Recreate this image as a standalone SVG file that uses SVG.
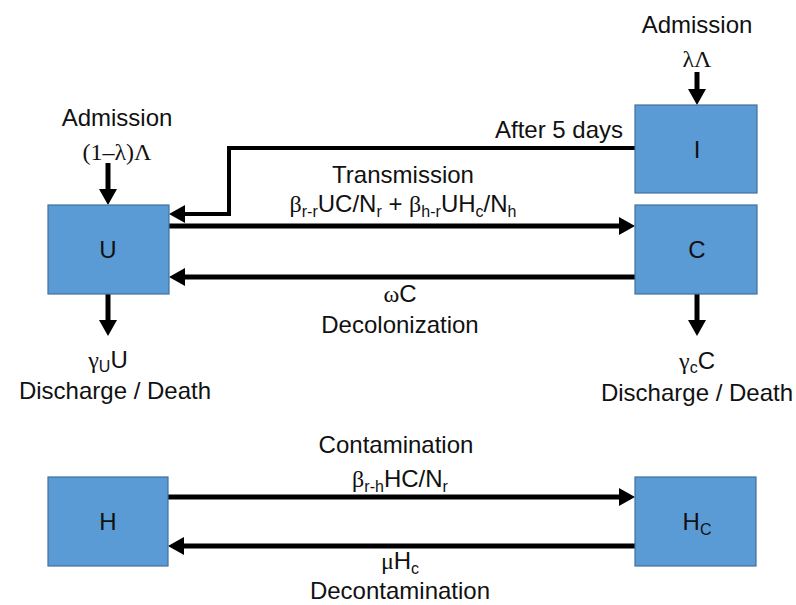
<svg xmlns="http://www.w3.org/2000/svg" width="796" height="605" viewBox="0 0 796 605">
<style>
.box{fill:#5B9BD5;stroke:#41719C;stroke-width:1.2}
.t{font-family:"Liberation Sans",Arial,sans-serif;font-size:24px;fill:#111;text-anchor:middle}
.g{font-family:"Liberation Serif","Times New Roman",serif}
.s{font-size:16px}
.ln{fill:none;stroke:#000;stroke-width:5;marker-end:url(#ah)}
</style>
<defs>
<marker id="ah" markerUnits="userSpaceOnUse" markerWidth="16" markerHeight="18" refX="11" refY="9" orient="auto">
<path d="M0,0 L16,9 L0,18 z" fill="#000"/>
</marker>
</defs>
<rect width="796" height="605" fill="#fff"/>
<g id="connectors">
<path class="ln" d="M108,163 V200"/>
<path class="ln" d="M697,72 V100"/>
<path class="ln" d="M635,148 H229 V214 H174" style="stroke-width:4"/>
<path class="ln" d="M169,226 H630"/>
<path class="ln" d="M635,277 H174"/>
<path class="ln" d="M108,294 V331"/>
<path class="ln" d="M697,294 V331"/>
<path class="ln" d="M168,497 H630"/>
<path class="ln" d="M635,546 H173"/>
</g>
<g id="labels">
<text class="t" x="117" y="126">Admission</text>
<text class="t" x="117" y="160"><tspan class="g">(1–λ)Λ</tspan></text>
<text class="t" x="697" y="33">Admission</text>
<text class="t" x="697" y="67"><tspan class="g">λΛ</tspan></text>
<text class="t" x="559" y="138">After 5 days</text>
<text class="t" x="403" y="183">Transmission</text>
<text class="t" x="403" y="212"><tspan class="g">β</tspan><tspan class="s" dy="5">r-r</tspan><tspan dy="-5">UC/N</tspan><tspan class="s" dy="5">r</tspan><tspan dy="-5"> + </tspan><tspan class="g">β</tspan><tspan class="s" dy="5">h-r</tspan><tspan dy="-5">UH</tspan><tspan class="s" dy="5">c</tspan><tspan dy="-5">/N</tspan><tspan class="s" dy="5">h</tspan></text>
<text class="t" x="400" y="302"><tspan class="g">ω</tspan>C</text>
<text class="t" x="400" y="333">Decolonization</text>
<text class="t" x="108" y="368"><tspan class="g">γ</tspan><tspan class="s" dy="4">U</tspan><tspan dy="-4">U</tspan></text>
<text class="t" x="115" y="399">Discharge / Death</text>
<text class="t" x="697" y="369"><tspan class="g">γ</tspan><tspan class="s" dy="4">c</tspan><tspan dy="-4">C</tspan></text>
<text class="t" x="697" y="401">Discharge / Death</text>
<text class="t" x="396" y="453">Contamination</text>
<text class="t" x="400" y="487"><tspan class="g">β</tspan><tspan class="s" dy="5">r-h</tspan><tspan dy="-5">HC/N</tspan><tspan class="s" dy="5">r</tspan></text>
<text class="t" x="400" y="569"><tspan class="g">μ</tspan>H<tspan class="s" dy="5">c</tspan></text>
<text class="t" x="400" y="599">Decontamination</text>
</g>
<g id="node-U"><rect class="box" x="48" y="205" width="121" height="89"/><text class="t" x="108" y="258">U</text></g>
<g id="node-I"><rect class="box" x="635" y="105" width="122" height="88"/><text class="t" x="697" y="158">I</text></g>
<g id="node-C"><rect class="box" x="635" y="205" width="122" height="89"/><text class="t" x="697" y="258">C</text></g>
<g id="node-H"><rect class="box" x="48" y="477" width="120" height="89"/><text class="t" x="108" y="530">H</text></g>
<g id="node-Hc"><rect class="box" x="635" y="477" width="121" height="89"/><text class="t" x="697" y="530">H<tspan class="s" dy="5">C</tspan></text></g>
</svg>
